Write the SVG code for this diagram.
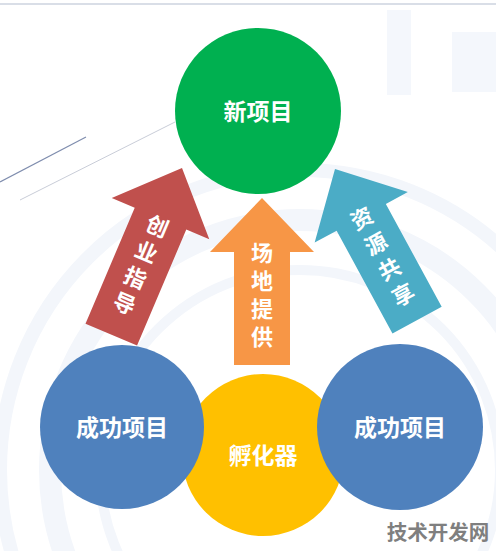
<svg xmlns="http://www.w3.org/2000/svg" width="496" height="551" viewBox="0 0 496 551">
<style>
.ct{font-family:"Noto Sans CJK SC","Noto Sans CJK TC",sans-serif;font-weight:700;font-size:23px;fill:#ffffff;text-anchor:middle}
.at{font-family:"Noto Sans CJK SC","Noto Sans CJK TC",sans-serif;font-weight:700;font-size:22px;fill:#ffffff;writing-mode:vertical-rl;text-anchor:start;letter-spacing:6px}
.bg{fill:none;stroke:#F3F6FB}
</style>
<defs>
<path id="arr167" d="M0,0 L52,54 L28,54 L28,167 L-28,167 L-28,54 L-52,54 Z"/>
<path id="arr181" d="M0,0 L53,55 L28,55 L28,181 L-28,181 L-28,55 L-53,55 Z"/>
<path id="arr172" d="M0,0 L53,55 L28,55 L28,172 L-28,172 L-28,55 L-53,55 Z"/>
</defs>
<rect width="496" height="551" fill="#ffffff"/>
<g id="background">
<line x1="0" y1="4" x2="496" y2="4" stroke="#D9DEE7" stroke-width="2"/>
<circle class="bg" cx="300" cy="470" r="250" stroke-width="22"/>
<circle class="bg" cx="300" cy="470" r="300" stroke-width="14"/>
<circle class="bg" cx="300" cy="470" r="200" stroke-width="10"/>
<rect x="387" y="10" width="24" height="85" fill="#F4F7FC"/>
<rect x="452" y="32" width="44" height="60" fill="#F4F7FC"/>
<line x1="0" y1="182" x2="86" y2="137" stroke="#7F8DAE" stroke-width="1.2"/>
<line x1="20" y1="200" x2="175" y2="122" stroke="#C9CDD8" stroke-width="1"/>
</g>
<g id="connectors">
<g id="arrow-guidance" transform="translate(182,168) rotate(23)">
<use href="#arr181" fill="#C0504D"/>
<text class="at" x="0" y="52">创业指导</text>
</g>
<g id="arrow-venue" transform="translate(262,198)">
<use href="#arr167" fill="#F79646"/>
<text class="at" x="0" y="44">场地提供</text>
</g>
<g id="arrow-resources" transform="translate(335,169) rotate(-28.5)">
<use href="#arr172" fill="#4BACC6"/>
<text class="at" x="0" y="45" style="letter-spacing:7px">资源共享</text>
</g>
</g>
<g id="node-new">
<circle cx="258" cy="111" r="83" fill="#00B050"/>
<text class="ct" x="258" y="120">新项目</text>
</g>
<g id="node-incubator">
<circle cx="263" cy="455" r="81" fill="#FFC000"/>
<text class="ct" x="263" y="464">孵化器</text>
</g>
<g id="node-success-left">
<circle cx="122" cy="427" r="82" fill="#4F81BD"/>
<text class="ct" x="122" y="436">成功项目</text>
</g>
<g id="node-success-right">
<circle cx="400" cy="427" r="83" fill="#4F81BD"/>
<text class="ct" x="400" y="436">成功项目</text>
</g>
<text x="438" y="540" font-family="Noto Sans CJK SC,sans-serif" font-weight="700" font-size="20.5" fill="#7F7F7F" text-anchor="middle">技术开发网</text>
</svg>
